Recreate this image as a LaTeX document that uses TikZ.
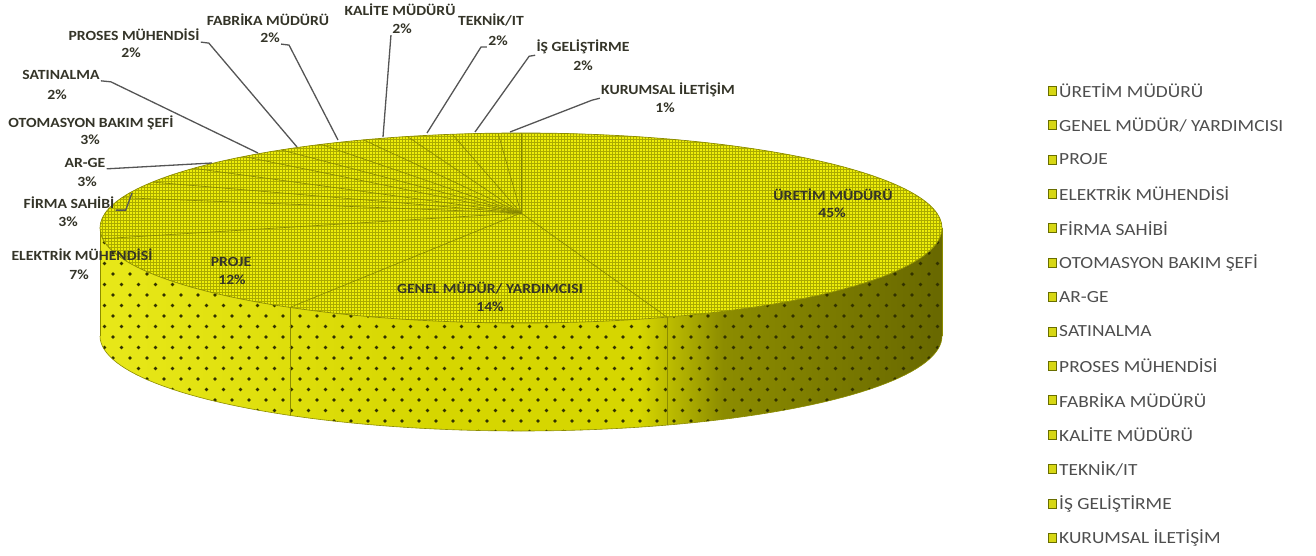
\documentclass[tikz,border=0pt]{standalone}
\usepackage{fontspec}
\setmainfont{Carlito}
\usetikzlibrary{patterns}

\definecolor{topY}{RGB}{238,238,10}
\definecolor{gridY}{RGB}{170,170,0}
\definecolor{edgeY}{RGB}{140,140,0}
\definecolor{divC}{RGB}{135,135,0}
\definecolor{lineG}{RGB}{85,85,85}
\definecolor{txtG}{RGB}{52,52,40}
\definecolor{legT}{RGB}{78,78,78}
\definecolor{dotC}{RGB}{50,50,0}
\definecolor{sqE}{RGB}{105,110,0}
\definecolor{sqF}{RGB}{215,215,20}
\definecolor{sA}{RGB}{232,232,25}
\definecolor{sB}{RGB}{214,214,0}
\definecolor{sC}{RGB}{140,140,0}
\definecolor{sD}{RGB}{104,104,0}

\pgfdeclarehorizontalshading{sideshade}{100bp}{color(0bp)=(sA); color(25bp)=(sA); color(45bp)=(sB); color(57bp)=(sB); color(62bp)=(sC); color(75bp)=(sD); color(100bp)=(sD)}

\begin{document}
\begin{tikzpicture}[x=1pt,y=-1pt,
  lab/.style={font=\fontsize{14}{16}\selectfont\bfseries, text=txtG, inner sep=1pt, xscale=1.12},
  leader/.style={draw=lineG, line width=1.3pt},
  divider/.style={draw=divC, line width=0.6pt},
  seam/.style={draw=edgeY, line width=0.6pt},
  legsq/.style={draw=sqE, fill=sqF, line width=0.7pt, minimum width=8pt, minimum height=9pt, inner sep=0pt},
  legtxt/.style={font=\fontsize{17}{20}\selectfont, text=legT, anchor=west, inner sep=0pt, xscale=1.14}]

\useasboundingbox (0,0) rectangle (1316,556);

% ---------- side of the pie ----------
\shade[shading=sideshade]
  plot[domain=0:180, samples=91] ({521+421*cos(\x)},{228+95*sin(\x)})
  -- plot[domain=0:180, samples=91] ({521+421*cos(180-\x)},{336+95*sin(180-\x)})
  -- cycle;
\begin{scope}
  \clip plot[domain=0:180, samples=91] ({521+421*cos(\x)},{228+95*sin(\x)})
  -- plot[domain=0:180, samples=91] ({521+421*cos(180-\x)},{336+95*sin(180-\x)})
  -- cycle;
  \foreach \r in {0,...,19} {
    \pgfmathsetmacro\off{mod(\r,2)*8.5}
    \foreach \c in {0,...,50} {
      \fill[dotC] ({96+\c*17+\off},{232+\r*10.5}) circle (1.8);
    }
  }
\end{scope}
\draw[edgeY, line width=0.6pt]
  plot[domain=0:180, samples=91] ({521+421*cos(180-\x)},{336+95*sin(180-\x)});
\draw[edgeY, line width=0.5pt] (100,228) -- (100,336) (942,228) -- (942,336);
\draw[seam] (290,307.4) -- (290,415.4);
\draw[seam] (667,317.1) -- (667,425.1);

% ---------- top face ----------
\fill[topY] (521,228) ellipse [x radius=421, y radius=95];
\fill[pattern=grid, pattern color=gridY] (521,228) ellipse [x radius=421, y radius=95];
\draw[edgeY, line width=0.7pt] (521,228) ellipse [x radius=421, y radius=95];

\coordinate (apex) at (521,213);
\coordinate (b0) at (521,133);
\coordinate (b1) at (667,317.1);
\coordinate (b2) at (290,307.4);
\coordinate (b3) at (102.7,238.7);
\coordinate (b4) at (122,197.7);
\coordinate (b5) at (152.5,182.1);
\coordinate (b6) at (193.6,168.3);
\coordinate (b7) at (243.7,156.5);
\coordinate (b8) at (281.2,149.9);
\coordinate (b9) at (321.3,144.4);
\coordinate (b10) at (363.5,139.9);
\coordinate (b11) at (407.3,136.5);
\coordinate (b12) at (452.3,134.3);
\coordinate (b13) at (498,133.1);
\foreach \i in {0,...,13} { \draw[divider] (apex) -- (b\i); }

% ---------- data labels ----------
\node[lab] (URn) at (833,195) {ÜRETİM MÜDÜRÜ};
\node[lab] (URp) at (832,213) {45\%};
\node[lab] (GENn) at (490,288) {GENEL MÜDÜR/ YARDIMCISI};
\node[lab] (GENp) at (490,307) {14\%};
\node[lab] (PRJn) at (231,262) {PROJE};
\node[lab] (PRJp) at (232,280) {12\%};
\node[lab] (ELKn) at (82,255) {ELEKTRİK MÜHENDİSİ};
\node[lab] (ELKp) at (79,275) {7\%};
\node[lab] (FIRn) at (69,203) {FİRMA SAHİBİ};
\node[lab] (FIRp) at (68,222) {3\%};
\node[lab] (ARGn) at (85,163) {AR-GE};
\node[lab] (ARGp) at (87,182) {3\%};
\node[lab] (OTOn) at (91,123) {OTOMASYON BAKIM ŞEFİ};
\node[lab] (OTOp) at (90,140) {3\%};
\node[lab] (SATn) at (61,75) {SATINALMA};
\node[lab] (SATp) at (57,95) {2\%};
\node[lab] (PROn) at (134,35) {PROSES MÜHENDİSİ};
\node[lab] (PROp) at (131,53) {2\%};
\node[lab] (FABn) at (268,20) {FABRİKA MÜDÜRÜ};
\node[lab] (FABp) at (270,38) {2\%};
\node[lab] (KALn) at (400,10) {KALİTE MÜDÜRÜ};
\node[lab] (KALp) at (402,29) {2\%};
\node[lab] (TEKn) at (491,20) {TEKNİK/IT};
\node[lab] (TEKp) at (498,41) {2\%};
\node[lab] (ISn) at (583,47) {İŞ GELİŞTİRME};
\node[lab] (ISp) at (583,66) {2\%};
\node[lab] (KURn) at (668,90) {KURUMSAL İLETİŞİM};
\node[lab] (KURp) at (665,108) {1\%};

% ---------- leader lines ----------
\coordinate (eFir) at (132,193);
\coordinate (eArg) at (212,163);
\coordinate (eSat) at (258,153);
\coordinate (ePro) at (297,147);
\coordinate (eFab) at (338,140);
\coordinate (eKal) at (383,137);
\coordinate (eTek) at (427,133);
\coordinate (eIs) at (475,132);
\coordinate (eKur) at (510,132);
\draw[leader] (FIRn.south east) -- ++(10,0) -- (eFir);
\draw[leader] (ARGn.south east) -- (eArg);
\draw[leader] (SATn.south east) -- ++(10,1) -- (eSat);
\draw[leader] (PROn.south east) -- ++(8,1) -- (ePro);
\draw[leader] (FABp.south east) -- ++(8,1) -- (eFab);
\draw[leader] (KALp.south west) -- (eKal);
\draw[leader] (TEKp.south west) -- ++(-6,0) -- (eTek);
\draw[leader] (ISn.south west) -- ++(-6,1) -- (eIs);
\draw[leader] (KURn.south west) -- ++(-8,2) -- (eKur);

% ---------- legend ----------
\foreach \t [count=\i] in {ÜRETİM MÜDÜRÜ, GENEL MÜDÜR/ YARDIMCISI, PROJE, ELEKTRİK MÜHENDİSİ, FİRMA SAHİBİ, OTOMASYON BAKIM ŞEFİ, AR-GE, SATINALMA, PROSES MÜHENDİSİ, FABRİKA MÜDÜRÜ, KALİTE MÜDÜRÜ, TEKNİK/IT, İŞ GELİŞTİRME, KURUMSAL İLETİŞİM} {
  \node[legsq] (sq\i) at (1052, {90.7+(\i-1)*34.4}) {};
  \node[legtxt] (lt\i) at (1059, {90.7+(\i-1)*34.4}) {\t};
}
\end{tikzpicture}
\end{document}
